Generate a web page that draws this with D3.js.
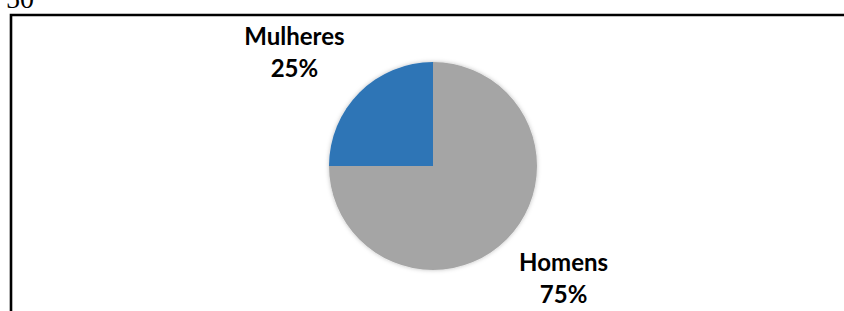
<!DOCTYPE html>
<html lang="pt">
  <head>
    <meta charset="UTF-8" />
    <title>Homens / Mulheres</title>
    <style type="text/css">
      html, body { margin: 0; padding: 0; background: #fff; }
      svg { display: block; }
    </style>
    <script src="https://d3js.org/d3.v7.min.js"></script>
  </head>
  <body>
    <div class="d3Chart"></div>
    <script type="text/javascript">
      var categories = ['Homens', 'Mulheres']
      var values = [75, 25]
      var bColor = ['#A5A5A5', '#2E75B6']
      var pageNumber = '50'

      var width = 844
      var height = 311
      var cx = 433
      var cy = 166
      var radius = 104

      var svg = d3.select('.d3Chart').append('svg').attr('width', width).attr('height', height)

      // sombra leve do gráfico
      var defs = svg.append('defs')
      var filter = defs.append('filter').attr('id', 'shadow').attr('x', '-20%').attr('y', '-20%').attr('width', '140%').attr('height', '140%')
      filter.append('feDropShadow').attr('dx', 0).attr('dy', 0).attr('stdDeviation', 2).attr('flood-color', '#000').attr('flood-opacity', 0.25)

      // número de página cortado no topo
      svg.append('text')
        .attr('x', 6)
        .attr('y', 7.5)
        .attr('font-family', '"Liberation Serif", "DejaVu Serif", serif')
        .attr('font-size', 28)
        .attr('fill', '#000')
        .text(pageNumber)

      // moldura (esquerda e topo)
      svg.append('path')
        .attr('d', 'M11,' + (height + 5) + ' L11,15 L' + (width + 5) + ',15')
        .attr('fill', 'none')
        .attr('stroke', '#000')
        .attr('stroke-width', 2.6)

      var dataArr = categories.map(function (c, i) {
        return { label: c, value: values[i] }
      })
      var total = d3.sum(values)
      var fmt = d3.format('.0%')

      var pie = d3.pie().value(function (d) { return d.value }).sort(null).startAngle(0).endAngle(Math.PI * 2)
      var colorScale = d3.scaleOrdinal().domain(categories).range(bColor)
      var arc = d3.arc().innerRadius(0).outerRadius(radius)

      var chart = svg.append('g').attr('transform', 'translate(' + cx + ',' + cy + ')')
      var arcsData = pie(dataArr)

      chart.append('g')
        .attr('filter', 'url(#shadow)')
        .selectAll('path')
        .data(arcsData)
        .enter()
        .append('path')
        .attr('d', arc)
        .attr('fill', function (d) { return colorScale(d.data.label) })

      // rótulos fora da fatia
      var kx = 1.83
      var ky = 1.54
      var labels = chart.selectAll('.lbl')
        .data(arcsData)
        .enter()
        .append('text')
        .attr('class', 'lbl')
        .attr('text-anchor', 'middle')
        .attr('font-family', 'Lato, "Open Sans", sans-serif')
        .attr('font-weight', 'bold')
        .attr('font-size', 24)
        .attr('fill', '#000')
        .attr('transform', function (d) {
          var mid = (d.startAngle + d.endAngle) / 2
          var x = Math.sin(mid) * radius * kx - 4
          var y = -Math.cos(mid) * radius * ky
          return 'translate(' + x + ',' + y + ')'
        })

      labels.append('tspan').attr('x', 0).attr('y', -8).text(function (d) { return d.data.label })
      labels.append('tspan').attr('x', 0).attr('y', 24).text(function (d) { return fmt(d.data.value / total) })
    </script>
  </body>
</html>
